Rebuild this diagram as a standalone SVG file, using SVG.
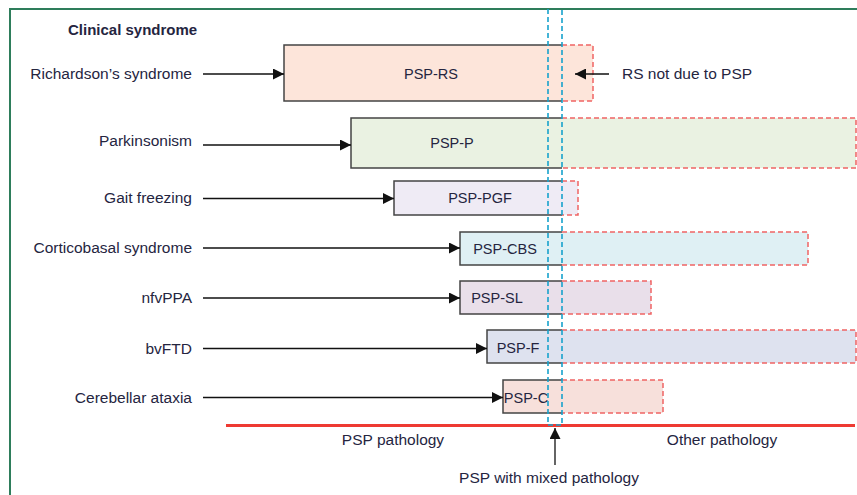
<svg xmlns="http://www.w3.org/2000/svg" width="857" height="495" viewBox="0 0 857 495">
<defs>
<marker id="ah" viewBox="0 0 10 10" refX="10" refY="5" markerWidth="11" markerHeight="11" markerUnits="userSpaceOnUse" orient="auto">
<path d="M0,0 L10,5 L0,10 Z" fill="#111"/>
</marker>
</defs>
<style>
text{font-family:"Liberation Sans",Arial,sans-serif;font-size:15.5px;fill:#25253f}
.lbl{text-anchor:end}
.box{text-anchor:middle;font-size:14.5px}
.solid{fill:none;stroke:#444;stroke-width:1.5}
.dash{fill:none;stroke:#f06464;stroke-width:1.5;stroke-dasharray:5 3}
.conn{stroke:#111;stroke-width:1.3;fill:none;marker-end:url(#ah)}
.blue{stroke:#17a2cc;stroke-width:1.6;stroke-dasharray:5 3;fill:none}
</style>
<rect width="857" height="495" fill="#fff"/>
<path d="M10,495 V9 H857" fill="none" stroke="#2e7d5b" stroke-width="2"/>
<text x="68" y="35" style="font-weight:bold;font-size:15px">Clinical syndrome</text>

<g id="psp-rs">
<rect x="284" y="45" width="309" height="56" fill="#fde5da"/>
<path class="solid" d="M562,45 H284 V101 H562"/>
<path class="dash" d="M562,45 H593 V101 H562"/>
<text class="box" x="431" y="79">PSP-RS</text>
</g>
<g id="psp-p">
<rect x="351" y="118" width="505" height="50" fill="#eaf2e2"/>
<path class="solid" d="M562,118 H351 V168 H562"/>
<path class="dash" d="M562,118 H856 V168 H562"/>
<text class="box" x="452" y="148">PSP-P</text>
</g>
<g id="psp-pgf">
<rect x="394" y="181" width="184" height="34" fill="#efebf5"/>
<path class="solid" d="M562,181 H394 V215 H562"/>
<path class="dash" d="M562,181 H578 V215 H562"/>
<text class="box" x="480" y="203">PSP-PGF</text>
</g>
<g id="psp-cbs">
<rect x="460" y="232" width="348" height="33" fill="#dff0f4"/>
<path class="solid" d="M562,232 H460 V265 H562"/>
<path class="dash" d="M562,232 H808 V265 H562"/>
<text class="box" x="505" y="254">PSP-CBS</text>
</g>
<g id="psp-sl">
<rect x="460" y="281" width="191" height="33" fill="#e9dfea"/>
<path class="solid" d="M562,281 H460 V314 H562"/>
<path class="dash" d="M562,281 H651 V314 H562"/>
<text class="box" x="497" y="303">PSP-SL</text>
</g>
<g id="psp-f">
<rect x="487" y="330" width="369" height="33" fill="#dee2ef"/>
<path class="solid" d="M562,330 H487 V363 H562"/>
<path class="dash" d="M562,330 H856 V363 H562"/>
<text class="box" x="518" y="353">PSP-F</text>
</g>
<g id="psp-c">
<rect x="503" y="380" width="160" height="33" fill="#f7e0db"/>
<path class="solid" d="M562,380 H503 V413 H562"/>
<path class="dash" d="M562,380 H663 V413 H562"/>
<text class="box" x="526" y="403">PSP-C</text>
</g>

<g id="labels">
<text class="lbl" x="192" y="79">Richardson’s syndrome</text>
<text class="lbl" x="192" y="146">Parkinsonism</text>
<text class="lbl" x="192" y="203">Gait freezing</text>
<text class="lbl" x="192" y="253">Corticobasal syndrome</text>
<text class="lbl" x="192" y="303">nfvPPA</text>
<text class="lbl" x="192" y="354">bvFTD</text>
<text class="lbl" x="192" y="403">Cerebellar ataxia</text>
<text x="622" y="79">RS not due to PSP</text>
<text x="393" y="445" text-anchor="middle">PSP pathology</text>
<text x="722" y="445" text-anchor="middle">Other pathology</text>
<text x="549" y="483" text-anchor="middle">PSP with mixed pathology</text>
</g>

<g id="connectors">
<line class="conn" x1="203" y1="74" x2="284" y2="74"/>
<line class="conn" x1="203" y1="145" x2="351" y2="145"/>
<line class="conn" x1="203" y1="198.5" x2="394" y2="198.5"/>
<line class="conn" x1="203" y1="248" x2="460" y2="248"/>
<line class="conn" x1="203" y1="298" x2="460" y2="298"/>
<line class="conn" x1="203" y1="348.5" x2="487" y2="348.5"/>
<line class="conn" x1="203" y1="397.5" x2="503" y2="397.5"/>
<line class="conn" x1="609" y1="74" x2="575" y2="74"/>
<line class="conn" x1="555" y1="465" x2="555" y2="428"/>
</g>

<g id="axis">
<line x1="226" y1="425.5" x2="855" y2="425.5" stroke="#ee3a32" stroke-width="3"/>
<path class="blue" d="M548,9 V425 H562 V9"/>
</g>
</svg>
